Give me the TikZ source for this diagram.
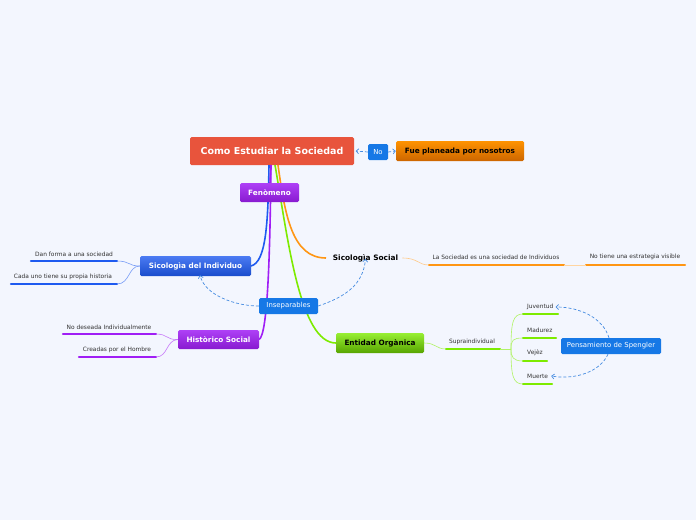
\documentclass[tikz,border=0pt]{standalone}
\usepackage{fontspec}
\setmainfont{DejaVu Sans}
\usetikzlibrary{arrows.meta}
\definecolor{bg}{RGB}{243,246,254}
\definecolor{rootc}{RGB}{232,84,60}
\definecolor{bluebox}{RGB}{22,120,230}
\definecolor{dashc}{RGB}{70,140,225}
\definecolor{cblue}{RGB}{30,90,240}
\definecolor{cpurple}{RGB}{160,30,245}
\definecolor{corange}{RGB}{255,150,20}
\definecolor{cgreen}{RGB}{125,235,0}
\definecolor{leaftxt}{RGB}{50,50,50}
\tikzset{
  boxbase/.style={rounded corners=1.5pt, inner sep=0pt, align=center},
  bigfont/.style={font=\fontsize{9.5}{11}\selectfont\bfseries},
  midfont/.style={font=\fontsize{7.3}{9}\selectfont\bfseries},
  smallfont/.style={font=\fontsize{6.9}{8}\selectfont},
  leaftext/.style={font=\fontsize{5.9}{7}\selectfont, text=leaftxt, inner sep=0pt},
  leafline/.style={line width=2.4pt, line cap=round},
  thinconn/.style={line width=0.6pt},
  branch/.style={line width=1.6pt},
  dasharrow/.style={draw=dashc, line width=0.7pt, dash pattern=on 3pt off 2pt, -{Straight Barb[length=2.5pt,width=5pt]}},
}
\begin{document}
\begin{tikzpicture}[x=1pt,y=-1pt]
\fill[bg] (0,0) rectangle (696,520);
\useasboundingbox (0,0) rectangle (696,520);

% main branch start points
\coordinate (r1) at (269,165);
\coordinate (r2) at (271,165);
\coordinate (r3) at (275,165);
\coordinate (r4) at (278,165);

% nodes
\node[boxbase, bigfont, fill=rootc, text=white, minimum width=164pt, minimum height=28pt] (root) at (272,151) {Como Estudiar la Sociedad};
\node[boxbase, smallfont, fill=bluebox, text=white, minimum width=20pt, minimum height=16pt] (no) at (378,152) {No};
\node[boxbase, top color=orange!85!yellow, bottom color=orange!80!black, text=black, minimum width=128pt, minimum height=20pt, font=\fontsize{7.3}{9}\selectfont\bfseries] (fue) at (460,151) {Fue planeada por nosotros};

\draw[branch, cblue] (r1) .. controls (268,225) and (266,262) .. (251,266) coordinate (sicindE);
\draw[branch, cpurple] (r2) .. controls (270,250) and (268,335) .. (259,339.5) coordinate (histE);
\draw[branch, cgreen] (r3) .. controls (288,240) and (300,343) .. (336,343) coordinate (entW);
\draw[branch, corange] (r4) .. controls (285,215) and (292,258) .. (326,258) coordinate (socW);
\draw[branch, cpurple] (r2) -- (270,183);

\node[boxbase, midfont, top color=cpurple!85!white, bottom color=cpurple!85!black, text=white, minimum width=59pt, minimum height=19pt] (fen) at (269.5,192.5) {Fenòmeno};
\node[boxbase, midfont, top color=cblue!80!white, bottom color=cblue!85!black, text=white, minimum width=111pt, minimum height=20pt] (sicind) at (195.5,266) {Sicologìa del Individuo};
\node[boxbase, smallfont, fill=bluebox, text=white, minimum width=59pt, minimum height=16pt] (ins) at (288.5,306) {Inseparables};
\node[boxbase, midfont, top color=cpurple!85!white, bottom color=cpurple!85!black, text=white, minimum width=81pt, minimum height=19pt] (hist) at (218.5,339.5) {Històrico Social};
\node[midfont, text=black, inner sep=0pt, font=\fontsize{7.4}{9}\selectfont\bfseries] (sicsoc) at (365.5,258) {Sicologìa Social};
\node[boxbase, midfont, top color=cgreen!80!white, bottom color=cgreen!70!black, text=black, minimum width=88pt, minimum height=20pt] (ent) at (380,343) {Entidad Orgànica};
\node[boxbase, smallfont, fill=bluebox, text=white, minimum width=100pt, minimum height=16pt] (spen) at (611,346) {Pensamiento de Spengler};

% Sicologia del Individuo leaves
\coordinate (d1s) at (31,261); \coordinate (d1e) at (117,261);
\coordinate (d2s) at (11,284); \coordinate (d2e) at (117,284);
\draw[leafline, cblue] (d1s) -- (d1e);
\draw[leafline, cblue] (d2s) -- (d2e);
\node[leaftext] (d1) at (74,254) {Dan forma a una sociedad};
\node[leaftext] (d2) at (63,277) {Cada uno tiene su propia historia};
\draw[thinconn, cblue!60] (sicind.west) .. controls (128,266) and (130,261) .. (d1e);
\draw[thinconn, cblue!60] (sicind.west) .. controls (128,266) and (130,284) .. (d2e);

% Historico Social leaves
\coordinate (h1s) at (63,334); \coordinate (h1e) at (156,334);
\coordinate (h2s) at (79,357); \coordinate (h2e) at (156,357);
\draw[leafline, cpurple] (h1s) -- (h1e);
\draw[leafline, cpurple] (h2s) -- (h2e);
\node[leaftext] (h1) at (109,327) {No deseada Individualmente};
\node[leaftext] (h2) at (117,350) {Creadas por el Hombre};
\draw[thinconn, cpurple!60] (hist.west) .. controls (166,340) and (168,334) .. (h1e);
\draw[thinconn, cpurple!60] (hist.west) .. controls (166,340) and (168,357) .. (h2e);

% Sicologia Social leaves
\coordinate (s1s) at (429,265); \coordinate (s1e) at (564,265);
\coordinate (s2s) at (586,265); \coordinate (s2e) at (685,265);
\draw[leafline, corange] (s1s) -- (s1e);
\draw[leafline, corange] (s2s) -- (s2e);
\node[leaftext] (s1) at (496,257) {La Sociedad es una sociedad de Individuos};
\node[leaftext] (s2) at (635,257) {No tiene una estrategia visible};
\draw[thinconn, corange!50] (sicsoc.east) ++(4,0) .. controls (418,258) and (418,265) .. (s1s);
\draw[thinconn, corange!40] (s1e) -- (s2s);

% Entidad Organica leaves
\coordinate (e1s) at (446,349); \coordinate (e1e) at (500,349);
\draw[leafline, cgreen] (e1s) -- (e1e);
\node[leaftext] (e1) at (472,342) {Supraindividual};
\draw[thinconn, cgreen!60] (ent.east) .. controls (436,343) and (436,349) .. (e1s);
\coordinate (hub) at (511,349);
\draw[thinconn, cgreen!60] (e1e) -- (hub);
\coordinate (j1s) at (523,314); \coordinate (j1e) at (558,314);
\coordinate (j2s) at (523,338); \coordinate (j2e) at (556,338);
\coordinate (j3s) at (523,361); \coordinate (j3e) at (547,361);
\coordinate (j4s) at (523,384); \coordinate (j4e) at (552,384);
\draw[leafline, cgreen] (j1s) -- (j1e);
\draw[leafline, cgreen] (j2s) -- (j2e);
\draw[leafline, cgreen] (j3s) -- (j3e);
\draw[leafline, cgreen] (j4s) -- (j4e);
\node[leaftext, anchor=west] (juv) at (527,307) {Juventud};
\node[leaftext, anchor=west] (mad) at (527,330) {Madurez};
\node[leaftext, anchor=west] (vej) at (527,353) {Vejèz};
\node[leaftext, anchor=west] (mue) at (527,376) {Muerte};
\draw[thinconn, cgreen!60] (hub) .. controls (511,322) and (513,314) .. (j1s);
\draw[thinconn, cgreen!60] (hub) .. controls (511,340) and (513,338) .. (j2s);
\draw[thinconn, cgreen!60] (hub) .. controls (511,357) and (513,361) .. (j3s);
\draw[thinconn, cgreen!60] (hub) .. controls (511,376) and (513,384) .. (j4s);

% dashed relationships
\draw[dasharrow] (no.west) -- ([xshift=1.5pt]root.east);
\draw[dasharrow] (no.east) -- (fue.west);
\draw[dasharrow] (ins.west) .. controls (235,306) and (205,295) .. ([xshift=4.5pt,yshift=1pt]sicind.south);
\draw[dasharrow] (ins.east) .. controls (345,297) and (363,285) .. ([yshift=3pt]sicsoc.south);
\draw[dasharrow] ([xshift=-2pt]spen.north) .. controls (603,318) and (580,307) .. ([xshift=2pt]juv.east);
\draw[dasharrow] ([xshift=-3pt]spen.south) .. controls (600,372) and (575,380) .. ([xshift=3pt]mue.east);
\end{tikzpicture}
\end{document}
